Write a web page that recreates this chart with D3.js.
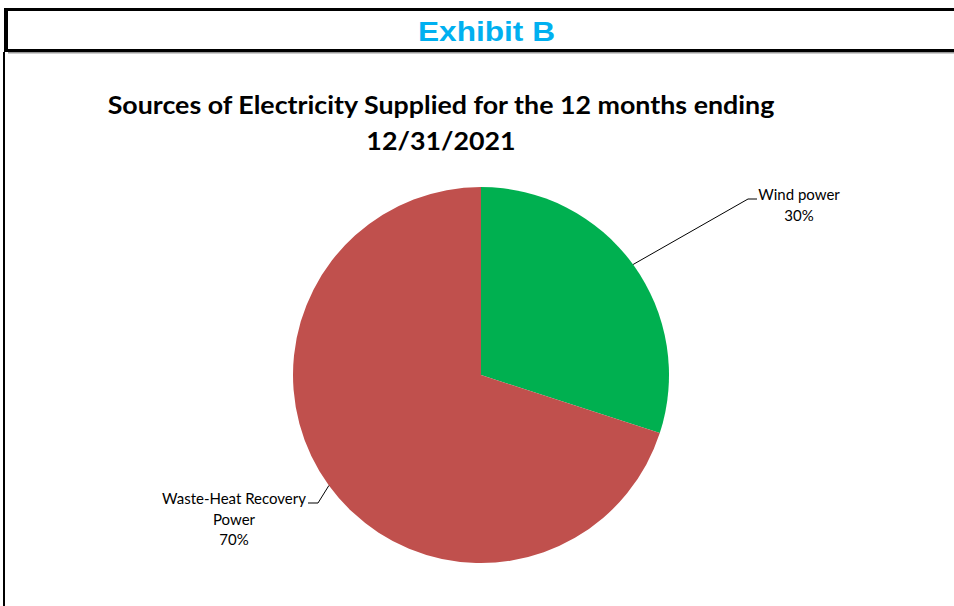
<!DOCTYPE html>
<html>
<head>
<meta charset="utf-8">
<script src="https://cdn.jsdelivr.net/npm/d3@7"></script>
<style>
  body { margin: 0; background: #fff; }
  svg { display: block; }
</style>
</head>
<body>
<div id="chart"></div>
<script>
// chart data
var sources = ["Wind power", "Waste-Heat Recovery Power"];
var shares = [30, 70];
var colors = ["#00B050", "#C0504D"];
var labelLines = [["Wind power", "30%"], ["Waste-Heat Recovery", "Power", "70%"]];

var width = 954, height = 606;
var svg = d3.select("#chart").append("svg")
    .attr("width", width)
    .attr("height", height);

// frame of the exhibit
svg.append("rect").attr("x", 4).attr("y", 8).attr("width", width).attr("height", 3).style("fill", "#000");
svg.append("rect").attr("x", 4).attr("y", 8).attr("width", 4).attr("height", 44).style("fill", "#000");
svg.append("rect").attr("x", 4).attr("y", 49).attr("width", width).attr("height", 3).style("fill", "#000");
svg.append("rect").attr("x", 8).attr("y", 52).attr("width", width).attr("height", 1.5).style("fill", "#999");
svg.append("rect").attr("x", 3).attr("y", 52).attr("width", 2).attr("height", height).style("fill", "#000");

svg.append("text")
    .attr("x", 418).attr("y", 41)
    .attr("textLength", 137)
    .attr("lengthAdjust", "spacingAndGlyphs")
    .style("font-family", "Liberation Sans, Arial, sans-serif")
    .style("font-weight", "bold")
    .style("font-size", "27px")
    .style("fill", "#00B0F0")
    .text("Exhibit B");

// title, stretched to the width of the original
var title = svg.append("text")
    .attr("text-anchor", "middle")
    .style("font-family", "Lato, sans-serif")
    .style("font-weight", "bold")
    .style("font-size", "25px")
    .style("fill", "#000");
var t1 = title.append("tspan").attr("x", 441).attr("y", 114).text("Sources of Electricity Supplied for the 12 months ending");
title.append("tspan").attr("x", 441).attr("y", 150).text("12/31/2021");
var sx = 667 / t1.node().getComputedTextLength();
title.attr("transform", "translate(441,0) scale(" + sx + ",1) translate(-441,0)");

// pie
var cx = 481, cy = 375, r = 188;
var pie = d3.pie().sort(null).value(function(d){ return d; });
var arcs = pie(shares);
var arc = d3.arc().innerRadius(0).outerRadius(r);

var g = svg.append("g").attr("transform", "translate(" + cx + "," + cy + ")");
g.selectAll("path")
    .data(arcs)
    .enter().append("path")
    .attr("d", arc)
    .style("fill", function(d, i){ return colors[i]; });

// leader lines and labels
var labelPos = [[799, 200], [234, 504]];
var elbow = [[748, 199, 757], [318, 503, 308]];
arcs.forEach(function(d, i){
    var mid = (d.startAngle + d.endAngle) / 2;
    var px = cx + r * Math.sin(mid), py = cy - r * Math.cos(mid);
    svg.append("polyline")
        .attr("points", [[px, py], [elbow[i][0], elbow[i][1]], [elbow[i][2], elbow[i][1]]].join(" "))
        .style("fill", "none")
        .style("stroke", "#000")
        .style("stroke-width", 1);
    var t = svg.append("text")
        .attr("text-anchor", "middle")
        .style("font-family", "Lato, sans-serif")
        .style("font-size", "15px")
        .style("fill", "#000");
    labelLines[i].forEach(function(line, j){
        t.append("tspan").attr("x", labelPos[i][0]).attr("y", labelPos[i][1] + j * 20.5).text(line);
    });
});
</script>
</body>
</html>
